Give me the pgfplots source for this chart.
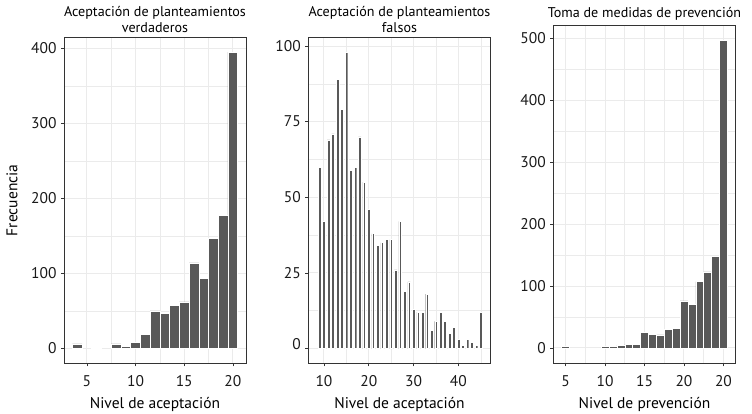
\documentclass[border=0pt]{standalone}
\usepackage{fontspec}
\setmainfont{PT Sans}
\usepackage{pgfplots}
\pgfplotsset{compat=1.18}
\definecolor{barfill}{HTML}{595959}
\definecolor{gridc}{HTML}{EBEBEB}
\definecolor{borderc}{HTML}{333333}
\definecolor{textc}{HTML}{1A1A1A}
\pgfplotsset{
  panel/.style={
    scale only axis,
    anchor=south west,
    font=\fontsize{15}{17}\selectfont,
    /pgf/number format/assume math mode=true,
    axis line style={borderc, line width=0.7pt},
    tick align=outside,
    major tick length=3pt,
    minor tick length=0pt,
    tick style={borderc, line width=0.7pt},
    grid=both,
    major grid style={gridc, line width=1pt},
    minor grid style={gridc, line width=0.6pt},
    xtick pos=bottom, ytick pos=left,
    ticklabel style={text=textc, font=\fontsize{15.5}{17}\selectfont},
    yticklabel style={xshift=-1pt},
    xticklabel style={yshift=-6pt},
    title style={align=center, font=\fontsize{14.1}{16}\selectfont, inner sep=0pt, yshift=-1.5pt},
    xlabel style={font=\fontsize{15.5}{17}\selectfont, at={(axis description cs:0.5,0)}, anchor=center, yshift=-40.7pt},
    ylabel style={font=\fontsize{15.5}{17}\selectfont},
    ybar,
  },
  barstyle/.style={fill=barfill, draw=white, line width=0.5pt},
}
\begin{document}
\begin{tikzpicture}
\path[use as bounding box] (0pt,0pt) rectangle (752pt,414pt);
% Panel 1
\begin{axis}[panel, at={(64pt,50.7pt)}, width=182pt, height=326pt,
  xmin=2.65, xmax=21.35, ymin=-19.75, ymax=414.75,
  xtick={5,10,15,20}, ytick={0,100,200,300,400},
  minor xtick={2.5,7.5,12.5,17.5}, minor ytick={50,150,250,350},
  bar width=1,
  title={Aceptación de planteamientos\\verdaderos},
  xlabel={Nivel de aceptación}, ylabel={Frecuencia},
  ylabel style={at={(axis description cs:-0.286,0.5)}, anchor=center}]
\addplot[barstyle] coordinates {(4,6) (6,1) (8,6) (9,3) (10,8) (11,19) (12,50) (13,47) (14,57) (15,62) (16,114) (17,93) (18,147) (19,177) (20,395)};
\end{axis}
% Panel 2
\begin{axis}[panel, at={(308.3pt,50.7pt)}, width=182.4pt, height=326pt,
  xmin=6.5, xmax=47.2, ymin=-4.9, ymax=102.9,
  xtick={10,20,30,40}, ytick={0,25,50,75,100},
  yticklabels={\raisebox{8pt}{0},25,50,75,100},
  minor xtick={5,15,25,35,45}, minor ytick={12.5,37.5,62.5,87.5},
  bar width=0.6,
  title={Aceptación de planteamientos\\falsos},
  xlabel={Nivel de aceptación}]
\addplot[barstyle, line width=0.35pt] coordinates {(9,60) (10,42) (11,69) (12,71) (13,89) (14,79) (15,98) (16,59) (17,60) (18,70) (19,55) (20,46) (21,38) (22,34) (23,35) (24,36) (25,36) (26,26) (27,42) (28,19) (29,22) (30,13) (31,12) (32,12) (33,18) (34,6) (35,9) (36,12) (37,9) (38,5) (39,7) (40,3) (41,1) (42,3) (43,2) (44,1) (45,12)};
\end{axis}
% Panel 3
\begin{axis}[panel, at={(553.3pt,50.7pt)}, width=182.4pt, height=338.3pt,
  xmin=3.45, xmax=26.55, ymin=-24.85, ymax=521.85,
  xtick={5,10,15,20,25}, xticklabels={5,10,15,20,20},
  ytick={0,100,200,300,400,500},
  minor xtick={7.5,12.5,17.5,22.5}, minor ytick={50,150,250,350,450},
  bar width=1,
  title={Toma de medidas de prevención},
  xlabel={Nivel de prevención}]
\addplot[barstyle] coordinates {(5,2) (10,2) (11,3) (12,4) (13,6) (14,6) (15,25) (16,22) (17,21) (18,30) (19,32) (20,76) (21,70) (22,107) (23,123) (24,148) (25,497)};
\end{axis}
\end{tikzpicture}
\end{document}
